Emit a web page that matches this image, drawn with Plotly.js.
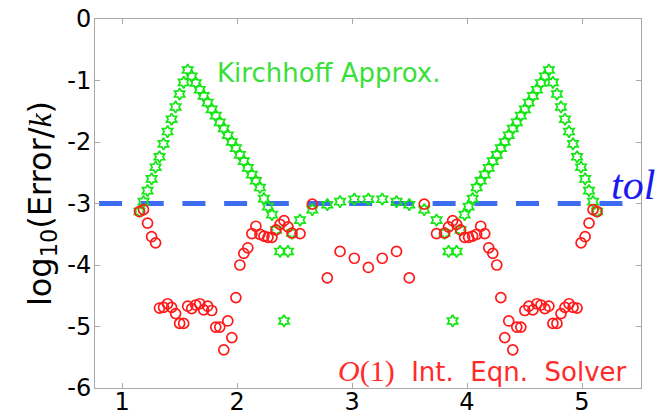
<!DOCTYPE html>
<html>
<head>
<meta charset="utf-8">
<script src="https://cdn.plot.ly/plotly-3.0.1.min.js"></script>
<style>
  html, body { margin: 0; padding: 0; background: #ffffff; }
  #chart { width: 662px; height: 417px; }
</style>
</head>
<body>
<div id="chart"></div>
<script>
// Observation angle (radians)
const angle = [
  1.152, 1.187, 1.222, 1.257, 1.292, 1.326, 1.361, 1.396, 1.431, 1.466,
  1.501, 1.536, 1.571, 1.606, 1.641, 1.676, 1.710, 1.745, 1.780, 1.815,
  1.850, 1.885, 1.920, 1.955, 1.990, 2.025, 2.059, 2.094, 2.129, 2.164,
  2.199, 2.234, 2.269, 2.304, 2.339, 2.374, 2.409, 2.443, 2.478,
  2.548, 2.655, 2.785, 2.896, 3.020, 3.142, 3.263, 3.387, 3.498, 3.628, 3.735,
  3.805, 3.840, 3.875, 3.910, 3.944, 3.979, 4.014, 4.049, 4.084, 4.119,
  4.154, 4.189, 4.224, 4.259, 4.294, 4.328, 4.363, 4.398, 4.433, 4.468,
  4.503, 4.538, 4.573, 4.608, 4.643, 4.677, 4.712, 4.747, 4.782, 4.817,
  4.852, 4.887, 4.922, 4.957, 4.992, 5.027, 5.061, 5.096, 5.131
];

// log10(Error/k), Kirchhoff approximation
const kirchhoffErr = [
  -3.13, -2.97, -2.79, -2.60, -2.41, -2.24, -2.03, -1.83, -1.63, -1.43,
  -1.22, -1.03, -0.83, -0.93, -1.04, -1.15, -1.25, -1.36, -1.47, -1.57,
  -1.68, -1.78, -1.89, -2.00, -2.10, -2.21, -2.31, -2.42, -2.53, -2.63,
  -2.74, -2.92, -3.05, -3.18, -3.43, -3.78, -4.91, -3.78, -3.48,
  -3.27, -3.10, -3.02, -2.97, -2.93, -2.93, -2.93, -2.97, -3.02, -3.10, -3.27,
  -3.48, -3.78, -4.91, -3.78, -3.43, -3.18, -3.05, -2.92, -2.74, -2.63,
  -2.53, -2.42, -2.31, -2.21, -2.10, -2.00, -1.89, -1.78, -1.68, -1.57,
  -1.47, -1.36, -1.25, -1.15, -1.04, -0.93, -0.83, -1.03, -1.22, -1.43,
  -1.63, -1.83, -2.03, -2.24, -2.41, -2.60, -2.79, -2.97, -3.13
];

// log10(Error/k), O(1) integral equation solver
const solverErr = [
  -3.13, -3.10, -3.32, -3.54, -3.64, -4.70, -4.69, -4.63, -4.69, -4.79,
  -4.95, -4.95, -4.67, -4.71, -4.65, -4.63, -4.73, -4.67, -4.74, -5.01,
  -5.01, -5.38, -4.91, -5.18, -4.53, -4.00, -3.81, -3.72, -3.49, -3.37,
  -3.50, -3.53, -3.55, -3.55, -3.43, -3.34, -3.28, -3.38, -3.48,
  -3.49, -3.01, -4.21, -3.78, -3.89, -4.04, -3.89, -3.78, -4.21, -3.01, -3.49,
  -3.48, -3.38, -3.28, -3.34, -3.43, -3.55, -3.55, -3.53, -3.50, -3.37,
  -3.49, -3.72, -3.81, -4.00, -4.53, -5.18, -4.91, -5.38, -5.01, -5.01,
  -4.74, -4.67, -4.73, -4.63, -4.65, -4.71, -4.67, -4.95, -4.95, -4.79,
  -4.69, -4.63, -4.69, -4.70, -3.64, -3.54, -3.32, -3.10, -3.13
];

// Tolerance level and the span of its reference line
const tolValue = -3;
const tolSpan = [0.80, 5.39];

const xTicks = [1, 2, 3, 4, 5];
const yTicks = [-6, -5, -4, -3, -2, -1, 0];

const sans = 'DejaVu Sans, Verdana, sans-serif';
const serif = 'Liberation Serif, Times New Roman, serif';

const traces = [
  {
    x: tolSpan,
    y: tolSpan.map(() => tolValue),
    mode: 'lines',
    line: { color: '#3c6cf0', width: 5, dash: '23px,18.7px' },
    hoverinfo: 'skip',
    showlegend: false
  },
  {
    x: angle,
    y: kirchhoffErr,
    mode: 'markers',
    name: 'Kirchhoff Approx.',
    marker: { symbol: 'hexagram-open', size: 9, color: '#14e614', line: { width: 1.7, color: '#14e614' } },
    showlegend: false
  },
  {
    x: angle,
    y: solverErr,
    mode: 'markers',
    name: 'O(1) Int. Eqn. Solver',
    marker: { symbol: 'circle-open', size: 10, color: '#ff1a1a', line: { width: 1.7, color: '#ff1a1a' } },
    showlegend: false
  }
];

const axisCommon = {
  showgrid: false,
  zeroline: false,
  showline: true,
  linecolor: '#a8a8a8',
  linewidth: 1,
  mirror: 'ticks',
  ticks: 'inside',
  ticklen: 5,
  tickwidth: 1,
  tickcolor: '#a8a8a8',
  tickfont: { family: sans, size: 24, color: '#000000' }
};

const layout = {
  width: 662,
  height: 417,
  margin: { l: 95, r: 21, t: 19, b: 29 },
  paper_bgcolor: '#ffffff',
  plot_bgcolor: '#ffffff',
  xaxis: Object.assign({}, axisCommon, {
    range: [0.765, 5.513],
    tickvals: xTicks,
    ticktext: xTicks.map(String),
    ticklabelstandoff: -8
  }),
  yaxis: Object.assign({}, axisCommon, {
    range: [-6, 0],
    tickvals: yTicks,
    ticktext: yTicks.map(String),
    ticklabelstandoff: -2,
    title: {
      text: 'log<sub>10</sub>(Error/<span style="font-family:Liberation Serif"><i>k</i></span>)',
      font: { family: sans, size: 32, color: '#000000' },
      standoff: 6
    }
  }),
  annotations: [
    {
      text: 'Kirchhoff Approx.',
      x: 1.809, y: -0.87, xref: 'x', yref: 'y',
      xanchor: 'left', yanchor: 'middle', showarrow: false,
      font: { family: sans, size: 26, color: '#38e038' }
    },
    {
      text: '<span style="font-family:Liberation Serif;font-size:30px"><i>O</i>(1)</span>&nbsp; Int.&nbsp; Eqn.&nbsp; Solver',
      x: 5.409, y: -5.72, xref: 'x', yref: 'y',
      xanchor: 'right', yanchor: 'middle', showarrow: false,
      font: { family: sans, size: 26, color: '#ff2a2a' }
    },
    {
      text: '<i>tol</i>',
      x: 5.238, y: -2.70, xref: 'x', yref: 'y',
      xanchor: 'left', yanchor: 'middle', showarrow: false,
      font: { family: serif, size: 42, color: '#1a1af0' }
    }
  ]
};

Plotly.newPlot('chart', traces, layout, { staticPlot: true, displayModeBar: false });
</script>
</body>
</html>
